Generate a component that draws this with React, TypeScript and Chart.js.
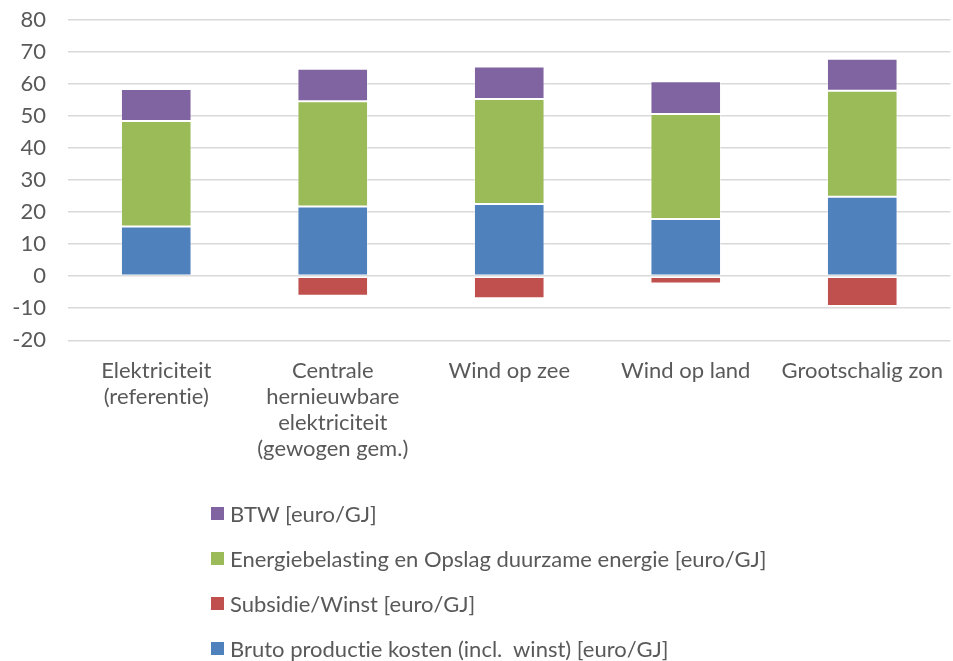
import React, { useEffect, useRef } from "react";
import { Chart, registerables } from "chart.js";

Chart.register(...registerables);

const categories: (string | string[])[] = [
  ["Elektriciteit", "(referentie)"],
  ["Centrale", "hernieuwbare", "elektriciteit", "(gewogen gem.)"],
  "Wind op zee",
  "Wind op land",
  "Grootschalig zon",
];

const brutoKosten = [15.5, 21.7, 22.5, 17.8, 24.8];
const subsidieWinst = [0, -6.1, -6.9, -2.3, -9.3];
const energiebelasting = [32.9, 32.9, 32.8, 32.8, 33.0];
const btw = [10.0, 10.1, 10.1, 10.2, 10.0];

const seriesNames = [
  "Bruto productie kosten (incl.  winst) [euro/GJ]",
  "Subsidie/Winst [euro/GJ]",
  "Energiebelasting en Opslag duurzame energie [euro/GJ]",
  "BTW [euro/GJ]",
];
const seriesColors = ["#4F81BD", "#C0504D", "#9BBB59", "#8064A2"];
const seriesValues = [brutoKosten, subsidieWinst, energiebelasting, btw];

const yTicks = [-20, -10, 0, 10, 20, 30, 40, 50, 60, 70, 80];

const FONT = "Lato, 'Open Sans', sans-serif";

const noLigatures = {
  id: "noLigatures",
  beforeDraw(chart: any) {
    const ctx = chart.ctx as any;
    try {
      ctx.textRendering = "optimizeSpeed";
    } catch (e) {}
  },
};

export default function App() {
  const ref = useRef<HTMLCanvasElement>(null);

  useEffect(() => {
    if (!ref.current) return;
    const chart = new Chart(ref.current, {
      type: "bar",
      data: {
        labels: categories,
        datasets: seriesValues.map((vals, i) => ({
          label: seriesNames[i],
          data: vals,
          backgroundColor: seriesColors[i],
          borderColor: "rgba(255,255,255,0.5)",
          borderWidth: 1,
          borderSkipped: false,
          barPercentage: 0.4,
          categoryPercentage: 1,
        })),
      },
      plugins: [noLigatures],
      options: {
        animation: false,
        responsive: true,
        maintainAspectRatio: false,
        layout: { padding: { top: 19.7, right: 2.5, left: 0, bottom: 0 } },
        plugins: {
          legend: { display: false },
          tooltip: { enabled: false },
        },
        scales: {
          x: {
            stacked: true,
            grid: { display: false, drawTicks: false },
            border: { display: false },
            ticks: {
              color: "#595959",
              font: { family: FONT, size: 22, lineHeight: 1.18 },
              padding: 18,
              maxRotation: 0,
              autoSkip: false,
            },
            afterFit: (s: any) => {
              s.height = 139.7;
              s.paddingLeft = 0;
              s.paddingRight = 0;
            },
          },
          y: {
            stacked: true,
            min: -20,
            max: 80,
            afterBuildTicks: (s: any) => {
              s.ticks = yTicks.map((v) => ({ value: v }));
            },
            grid: { color: "#d9d9d9", lineWidth: 1.6, drawTicks: false },
            border: { display: false },
            ticks: {
              color: "#595959",
              font: { family: FONT, size: 22 },
              padding: 22,
            },
            afterFit: (s: any) => {
              s.width = 68;
              s.paddingTop = 0;
              s.paddingBottom = 0;
            },
          },
        },
      },
    });
    return () => chart.destroy();
  }, []);

  const legendOrder = [3, 2, 1, 0];

  return (
    <div
      style={{
        position: "fixed",
        left: 0,
        top: 0,
        width: 953,
        height: 661,
        background: "#fff",
        fontFamily: FONT,
      }}
    >
      <div style={{ position: "absolute", left: 0, top: 0, width: 953, height: 480 }}>
        <canvas ref={ref} />
      </div>
      <div style={{ position: "absolute", left: 211, top: 491 }}>
        {legendOrder.map((i) => (
          <div
            key={i}
            style={{
              display: "flex",
              alignItems: "center",
              height: 45,
              color: "#595959",
              fontSize: 22,
              whiteSpace: "pre",
              fontVariantLigatures: "none",
            }}
          >
            <span
              style={{
                display: "inline-block",
                width: 13,
                height: 13,
                background: seriesColors[i],
                marginRight: 6,
              }}
            />
            <span>{seriesNames[i]}</span>
          </div>
        ))}
      </div>
    </div>
  );
}
